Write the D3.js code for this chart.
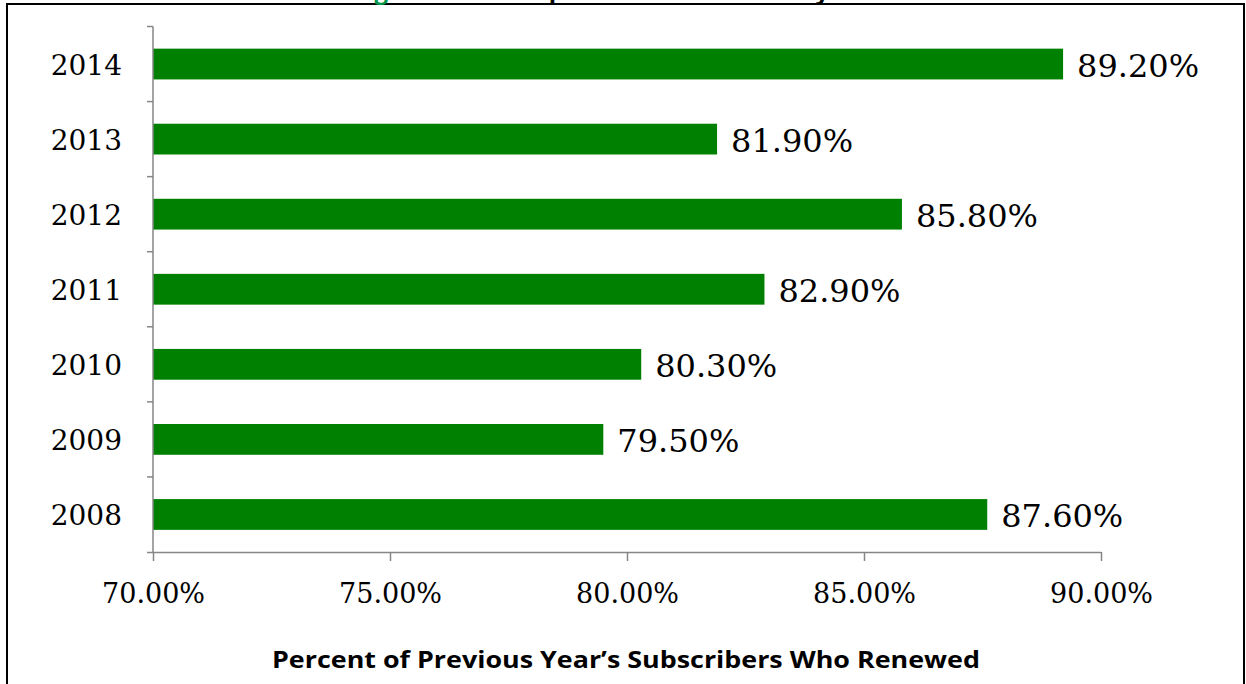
<!doctype html>
<html>
<head>
<meta charset="utf-8">
<script src="https://cdn.jsdelivr.net/npm/d3@7/dist/d3.min.js"></script>
<style>
  body { margin: 0; background: #fff; }
  svg { display: block; }
  .axis path, .axis line { stroke: #868686; stroke-width: 1.5; }
  .serif { font-family: "DejaVu Serif", serif; fill: #000; }
</style>
</head>
<body>
<svg width="1246" height="684"></svg>
<script>
// data
var years = ["2014", "2013", "2012", "2011", "2010", "2009", "2008"];
var renewRate = [89.2, 81.9, 85.8, 82.9, 80.3, 79.5, 87.6];
var xTicks = [70, 75, 80, 85, 90];
var xTitle = "Percent of Previous Year\u2019s Subscribers Who Renewed";

var svg = d3.select("svg");

// frame around the figure (bottom runs off the picture)
svg.append("rect")
   .attr("x", 7).attr("y", 4)
   .attr("width", 1237).attr("height", 700)
   .attr("fill", "none").attr("stroke", "#000").attr("stroke-width", 2);

// title, mostly cut off above the frame (as in the original)
var title = svg.append("text")
   .attr("x", 622).attr("y", -1)
   .attr("text-anchor", "middle")
   .style("font-family", "'Open Sans', sans-serif")
   .style("font-weight", "bold")
   .style("font-size", "24px");
title.append("tspan").attr("fill", "#00964b").text("Figure 6: ");
title.append("tspan").attr("fill", "#000").text("Subscription Renewal Rates by Year");

var xScale = d3.scaleLinear().domain([70, 90]).range([153, 1101]);
var yScale = d3.scaleBand().domain(years).range([26.5, 552])
               .paddingInner(0.59).paddingOuter(0.295);

// bars
svg.selectAll("rect.bar")
   .data(years)
   .enter().append("rect")
   .attr("class", "bar")
   .attr("x", xScale(70))
   .attr("y", function(d) { return yScale(d); })
   .attr("width", function(d, i) { return xScale(renewRate[i]) - xScale(70); })
   .attr("height", yScale.bandwidth())
   .attr("fill", "#008000");

// value labels
svg.selectAll("text.val")
   .data(years)
   .enter().append("text")
   .attr("class", "val serif")
   .attr("x", function(d, i) { return xScale(renewRate[i]) + 14; })
   .attr("y", function(d) { return yScale(d) + yScale.bandwidth() / 2; })
   .attr("dy", "0.4em")
   .style("font-size", "32px")
   .text(function(d, i) { return renewRate[i].toFixed(2) + "%"; });

// x axis
var xAxis = d3.axisBottom(xScale)
              .tickValues(xTicks)
              .tickSize(9)
              .tickPadding(23)
              .tickSizeOuter(0)
              .tickFormat(function(d) { return d.toFixed(2) + "%"; });
var xg = svg.append("g").attr("class", "axis")
            .attr("transform", "translate(0,552)")
            .call(xAxis);
xg.select(".domain").attr("d", "M147,0.5H" + xScale(90));
xg.selectAll("text").attr("class", "serif")
  .style("font-size", "27px").attr("fill", "#000");

// y axis: labels centred on bands, ticks on band boundaries
var yAxis = d3.axisLeft(yScale).tickSize(0).tickPadding(31).tickSizeOuter(0);
var yg = svg.append("g").attr("class", "axis")
            .attr("transform", "translate(153,0)")
            .call(yAxis);
yg.selectAll("text").attr("class", "serif")
  .style("font-size", "28px").attr("fill", "#000").attr("dy", "0.39em");
yg.select(".domain").attr("d", "M0,26.5V552");

var step = yScale.step();
var bounds = d3.range(years.length).map(function(i) { return 26.5 + i * step; });
yg.selectAll("line.bound")
  .data(bounds)
  .enter().append("line")
  .attr("class", "bound")
  .attr("x1", -6).attr("x2", 0)
  .attr("y1", function(d) { return d; })
  .attr("y2", function(d) { return d; })
  .attr("stroke", "#868686").attr("stroke-width", 1.5);

// axis title
svg.append("text")
   .attr("x", 626).attr("y", 668)
   .attr("text-anchor", "middle")
   .attr("textLength", 708)
   .attr("lengthAdjust", "spacingAndGlyphs")
   .style("font-family", "'Open Sans', sans-serif")
   .style("font-weight", "bold")
   .style("font-size", "24px")
   .text(xTitle);
</script>
</body>
</html>
